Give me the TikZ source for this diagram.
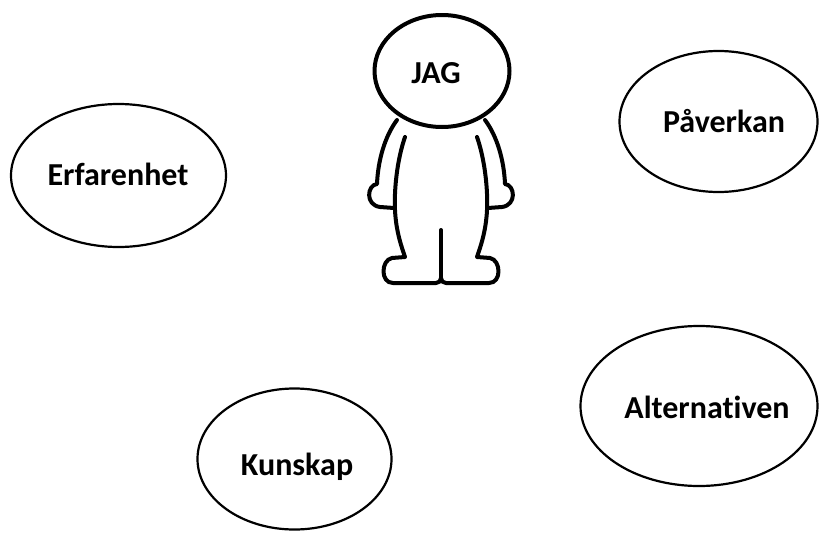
\documentclass[tikz,border=0pt]{standalone}
\usepackage{fontspec}
\setmainfont{Carlito}[RawFeature={-liga}]
\usepackage{tikz}
\usetikzlibrary{shapes.geometric}

\tikzset{
  bubble/.style={draw, ellipse, line width=2.2pt, inner sep=0pt},
  word/.style={anchor=base, font=\bfseries\fontsize{32}{38}\selectfont},
  figline/.style={line width=4pt, line cap=round, line join=round}
}

\newcommand{\halfman}{%
  % outer arm and hand
  \draw[figline] (397,120) .. controls (385,136) and (378,160) .. (377,184)
    .. controls (367,185) and (365,205) .. (380,207) -- (394,208);
  % torso side, leg and foot
  \draw[figline] (405,137) .. controls (397,160) and (394,190) .. (395,210)
    .. controls (396,232) and (402,248) .. (405,257) -- (392,258)
    .. controls (381,260) and (380,283) .. (393,283) -- (436,283)
    .. controls (439,283) and (441,281) .. (441,278);
}

\begin{document}
\begin{tikzpicture}[x=1pt, y=-1pt]
  \useasboundingbox (0,0) rectangle (819,533);

  % the bubbles
  \node[bubble, minimum width=215pt, minimum height=143pt] (erf) at (118.5,175.5) {};
  \node[bubble, minimum width=198pt, minimum height=141pt] (pav) at (718.5,121.5) {};
  \node[bubble, minimum width=237pt, minimum height=160pt] (alt) at (699,406) {};
  \node[bubble, minimum width=194pt, minimum height=141pt] (kun) at (294.5,459) {};

  \node[word] (erftext) at (118,185) {Erfarenhet};
  \node[word] (pavtext) at (724,132) {Påverkan};
  \node[word] (alttext) at (707,418) {Alternativen};
  \node[word] (kuntext) at (297,475) {Kunskap};

  % the person
  \node[draw, ellipse, line width=4pt, minimum width=135pt, minimum height=112pt] (head) at (442,71) {};
  \node[word] (headtext) at (436,83) {JAG};
  \halfman
  \begin{scope}[xshift=882pt, xscale=-1]
    \halfman
  \end{scope}
  \draw[figline] (441,230) -- (441,278);
\end{tikzpicture}
\end{document}
